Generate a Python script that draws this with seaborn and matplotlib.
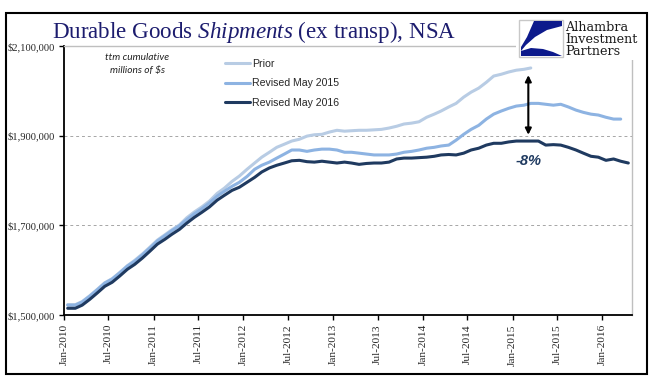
import pandas as pd
import numpy as np
import matplotlib
matplotlib.use("Agg")
import matplotlib.pyplot as plt
import matplotlib.dates as mdates
from matplotlib.patches import Rectangle, Polygon
from matplotlib.ticker import FuncFormatter
import seaborn as sns

# ttm cumulative shipments, thousands of millions of $
prior = [1523, 1523, 1530, 1543, 1557, 1572, 1581, 1595, 1610, 1622,
         1636, 1651, 1667, 1679, 1690, 1701, 1717, 1730, 1741, 1754,
         1771, 1783, 1798, 1810, 1825, 1839, 1852, 1863, 1874, 1881,
         1888, 1892, 1899, 1902, 1903, 1908, 1912, 1910, 1911, 1912,
         1912, 1913, 1914, 1917, 1921, 1926, 1928, 1931, 1941, 1948,
         1955, 1964, 1972, 1986, 1997, 2006, 2019, 2033, 2037, 2042,
         2046, 2048, 2051]
rev_2015 = [1522, 1522, 1529, 1542, 1556, 1571, 1580, 1594, 1609, 1620,
            1634, 1649, 1665, 1677, 1688, 1699, 1713, 1726, 1737, 1750,
            1765, 1776, 1787, 1796, 1809, 1825, 1834, 1841, 1850, 1859,
            1868, 1868, 1865, 1868, 1870, 1870, 1868, 1863, 1863, 1861,
            1859, 1857, 1857, 1857, 1859, 1863, 1865, 1868, 1872, 1874,
            1877, 1879, 1890, 1903, 1914, 1923, 1937, 1948, 1955, 1961,
            1966, 1968, 1972, 1972, 1970, 1968, 1970, 1964, 1957, 1952,
            1948, 1946, 1941, 1937, 1937]
rev_2016 = [1515, 1515, 1522, 1535, 1549, 1564, 1573, 1587, 1602, 1613,
            1627, 1642, 1658, 1669, 1680, 1691, 1705, 1718, 1729, 1741,
            1756, 1767, 1778, 1785, 1796, 1807, 1819, 1828, 1834, 1839,
            1844, 1845, 1842, 1841, 1843, 1841, 1839, 1841, 1839, 1836,
            1838, 1839, 1839, 1841, 1848, 1850, 1850, 1851, 1852, 1854,
            1857, 1858, 1857, 1861, 1868, 1872, 1879, 1883, 1883, 1886,
            1888, 1888, 1888, 1888, 1879, 1880, 1879, 1874, 1868, 1861,
            1854, 1852, 1845, 1848, 1843, 1839]
series_names = ["Prior", "Revised May 2015", "Revised May 2016"]
colors = ["#b8cce4", "#8db3e2", "#1f3a60"]
months = pd.date_range("2010-01-01", periods=76, freq="MS") + pd.Timedelta(days=15)

frames = []
for name, vals in zip(series_names, [prior, rev_2015, rev_2016]):
    frames.append(pd.DataFrame({"date": months[:len(vals)],
                                "value": np.array(vals) * 1000.0,
                                "series": name}))
df = pd.concat(frames, ignore_index=True)

sns.set_theme(style="white")
plt.rcParams["font.family"] = ["Liberation Serif", "DejaVu Serif"]
plt.rcParams["mathtext.fontset"] = "custom"
plt.rcParams["mathtext.rm"] = "Liberation Serif"
plt.rcParams["mathtext.it"] = "Liberation Serif:italic"

W, H = 651, 392
fig = plt.figure(figsize=(W / 100, H / 100), dpi=100)
ax = fig.add_axes([64 / W, 1 - 315 / H, (632 - 64) / W, (315 - 46) / H])

sns.lineplot(data=df, x="date", y="value", hue="series", hue_order=series_names,
             palette=colors, linewidth=2.2, ax=ax)

ax.set_xlim(pd.Timestamp("2010-01-01"), pd.Timestamp("2016-05-01"))
ax.set_ylim(1500000, 2100000)
ax.set_yticks([1500000, 1700000, 1900000, 2100000])
ax.yaxis.set_major_formatter(FuncFormatter(lambda v, p: "\\$" + f"{v:,.0f}"))
ax.xaxis.set_major_locator(mdates.MonthLocator(bymonth=[1, 7]))
ax.xaxis.set_major_formatter(mdates.DateFormatter("%b-%Y"))
ax.set_xlabel("")
ax.set_ylabel("")
ax.yaxis.grid(True, linestyle=(0, (3, 3)), color="#a6a6a6", linewidth=0.7)
ax.tick_params(axis="x", direction="out", length=3.5, width=1, color="black",
               labelsize=8.2, rotation=90, pad=3)
ax.tick_params(axis="y", direction="out", length=3.5, width=1, color="black",
               labelsize=7.6, pad=3)
ax.tick_params(bottom=True, left=True)
for s in ["left", "bottom"]:
    ax.spines[s].set_color("black")
    ax.spines[s].set_linewidth(1.3)
for s in ["top", "right"]:
    ax.spines[s].set_color("#bfbfbf")
    ax.spines[s].set_linewidth(1)

handles, labels = ax.get_legend_handles_labels()
ax.legend(handles, labels, loc="upper left", bbox_to_anchor=(225 / W, 1 - 59 / H),
          bbox_transform=fig.transFigure, frameon=False, borderpad=0,
          borderaxespad=0, handlelength=2.4, handletextpad=0.2, labelspacing=0.9,
          prop={"family": "Liberation Sans", "size": 7.6})

# arrow between prior and latest revision
x_arrow = months[len(prior) - 1] - pd.Timedelta(days=10)
ax.annotate("", xy=(x_arrow, 2035000), xytext=(x_arrow, 1902000),
            arrowprops=dict(arrowstyle="<|-|>", color="black", lw=1.5,
                            mutation_scale=9, shrinkA=0, shrinkB=0))
ax.text(x_arrow, 1844000, "-8%", ha="center", va="center", color="#1f3a60",
        fontsize=10.5, fontweight="bold", fontstyle="italic", family="Liberation Sans")

fig.text(137 / W, 1 - 57 / H, "ttm cumulative", ha="center", va="center",
         fontsize=7.3, fontstyle="italic", family="Lato", color="#222222")
fig.text(137 / W, 1 - 71 / H, "millions of \\$s", ha="center", va="center",
         fontsize=7.3, fontstyle="italic", family="Lato", color="#222222")

fig.text(52 / W, 1 - 38 / H, "Durable Goods $\\mathit{Shipments}$ (ex transp), NSA",
         ha="left", va="baseline", fontsize=16.6, color="#1c1c6e")

# logo area
fig.add_artist(Rectangle((516 / W, 1 - 60 / H), (645 - 516) / W, 45 / H,
                         transform=fig.transFigure, facecolor="white",
                         edgecolor="none", zorder=5))
fig.add_artist(Rectangle((519 / W, 1 - 57 / H), 44 / W, 37 / H,
                         transform=fig.transFigure, facecolor="white",
                         edgecolor="#c8c8c8", lw=1, zorder=6))


def logo_poly(pts):
    return Polygon([((519 + a) / W, 1 - (20 + b) / H) for a, b in pts], closed=True,
                   transform=fig.transFigure, facecolor="#0d1a8c",
                   edgecolor="none", zorder=7)


fig.add_artist(logo_poly([(15, 1), (43, 1), (43, 6), (28, 10), (16, 17),
                          (7, 25), (2, 31), (2, 27), (8, 17)]))
fig.add_artist(logo_poly([(2, 31), (12, 28), (24, 29), (34, 32), (43, 36),
                          (2, 36)]))
for txt, yb in [("Alhambra", 31), ("Investment", 43), ("Partners", 55)]:
    fig.text(565 / W, 1 - yb / H, txt, ha="left", va="baseline", fontsize=9.2,
             family="DejaVu Serif", color="#1a1a1a", zorder=8)

# outer frame
fig.add_artist(Rectangle((6 / W, 1 - 374 / H), (647 - 6) / W, (374 - 13) / H,
                         transform=fig.transFigure, fill=False,
                         edgecolor="black", lw=1.5, zorder=9))

fig.savefig("out.png", dpi=100)
